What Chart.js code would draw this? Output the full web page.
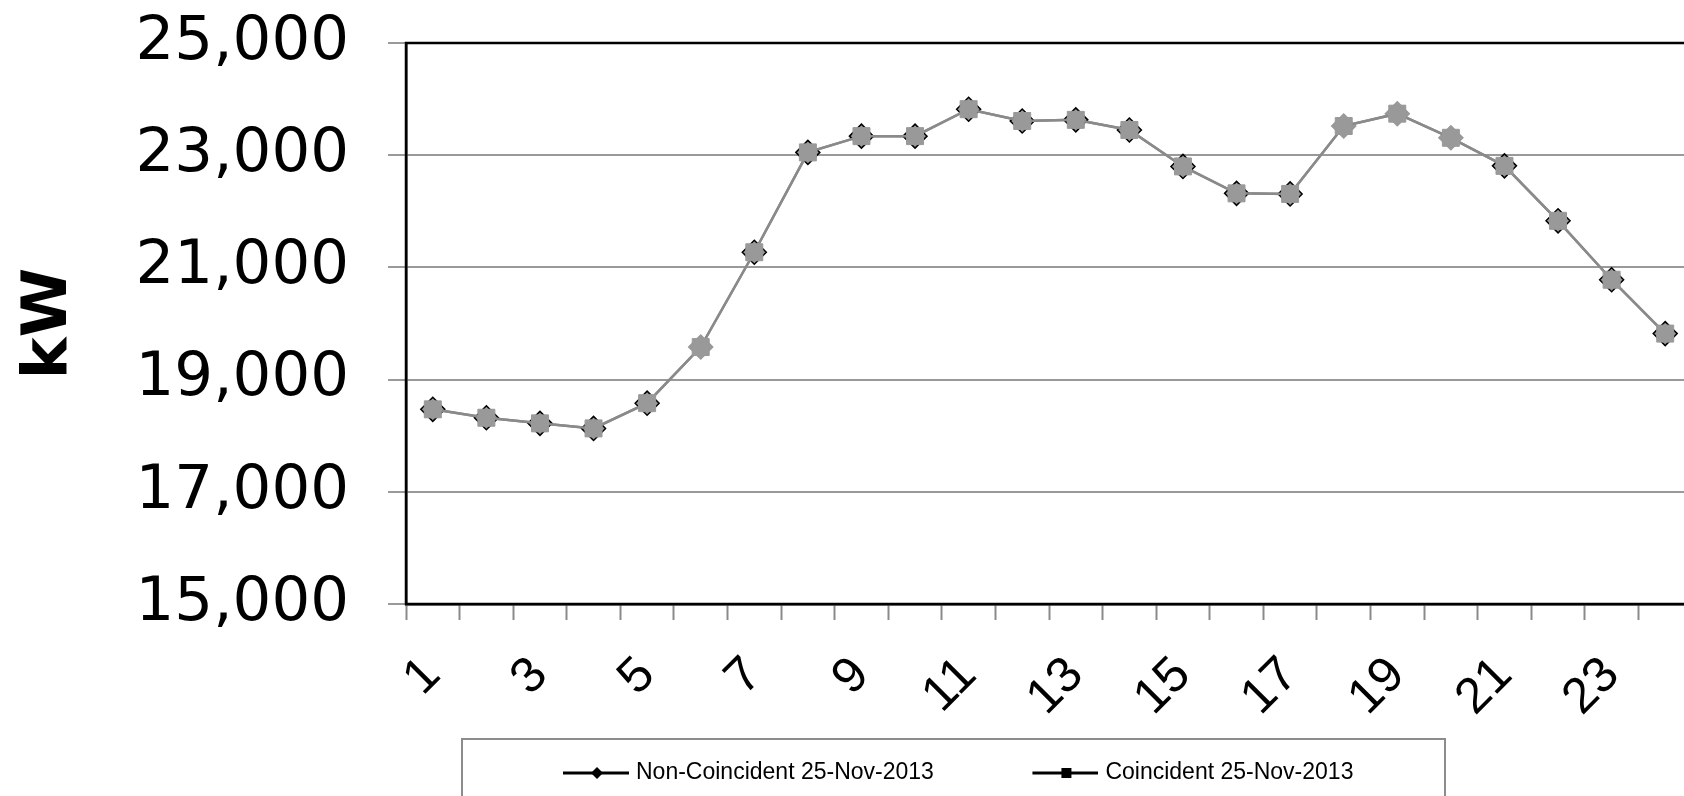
<!DOCTYPE html>
<html><head><meta charset="utf-8">
<script src="https://cdn.jsdelivr.net/npm/chart.js@4/dist/chart.umd.min.js"></script>
<style>
html,body{margin:0;padding:0;background:#fff;overflow:hidden;}
#wrap{position:relative;width:1720px;height:796px;}
</style></head><body>
<div id="wrap"><canvas id="c"></canvas></div>
<script>
// ---- data ----
const hours = ['1','2','3','4','5','6','7','8','9','10','11','12','13','14','15','16','17','18','19','20','21','22','23','24'];
const labeledHours = ['1','3','5','7','9','11','13','15','17','19','21','23'];
const nonCoincident = [18470, 18320, 18220, 18130, 18580, 19580, 21270, 23050, 23340, 23340, 23820, 23610, 23630, 23450, 22800, 22320, 22310, 23520, 23740, 23310, 22810, 21830, 20780, 19820];
const coincident    = [18470, 18320, 18220, 18130, 18580, 19580, 21270, 23050, 23340, 23340, 23820, 23610, 23630, 23450, 22800, 22320, 22310, 23520, 23740, 23310, 22810, 21830, 20780, 19820];
const yTickValues = [15000, 17000, 19000, 21000, 23000, 25000];
const seriesNames = ['Non-Coincident 25-Nov-2013', 'Coincident 25-Nov-2013'];
const yAxisTitle = 'kW';

// ---- styling ----
const grayTipHours = ['6','18','19','20'];
const lineGray = '#8a8a8a';
const markGray = '#999999';
const LEG_BOX = 150;
const LEG_IMG = 159;

function legendMarker(kind){
  const c = document.createElement('canvas');
  c.width = LEG_IMG; c.height = 20;
  const g = c.getContext('2d');
  g.strokeStyle = '#000'; g.lineWidth = 3;
  g.beginPath(); g.moveTo(LEG_IMG - 66, 10); g.lineTo(LEG_IMG, 10); g.stroke();
  g.fillStyle = '#000';
  const cx = LEG_IMG - 66 + 34;
  if (kind === 'diamond') {
    g.beginPath(); g.moveTo(cx,4); g.lineTo(cx+6,10); g.lineTo(cx,16); g.lineTo(cx-6,10); g.closePath(); g.fill();
  } else {
    g.fillRect(cx-5,5,10,10);
  }
  return c;
}
const legendImgs = [legendMarker('diamond'), legendMarker('square')];

const framePlugin = {
  id: 'frame',
  afterLayout(chart){
    const lg = chart.legend; if (!lg || !lg.lineWidths) return;
    const p = lg.options.labels.padding;
    const xFirst = ((lg.left + p) + (lg.right - lg.lineWidths[0])) / 2;
    const dx = 474.5 - xFirst;
    lg.left += dx; lg.right += dx;
    const fs = lg.options.labels.font.size;
    const dy = (773 - p - fs/2) - lg.top;
    lg.top += dy; lg.bottom += dy;
  },
  beforeDatasetsDraw(chart){
    const {ctx, chartArea:a} = chart;
    ctx.save();
    ctx.strokeStyle = '#000'; ctx.lineWidth = 2.5;
    ctx.strokeRect(a.left, a.top, a.right - a.left, a.bottom - a.top);
    ctx.restore();
  },
  afterDraw(chart){
    const ctx = chart.ctx;
    ctx.save();
    ctx.strokeStyle = '#8c8c8c'; ctx.lineWidth = 2;
    ctx.strokeRect(462, 739, 983, 120);
    ctx.restore();
  }
};

Chart.defaults.font.family = "'Liberation Sans', Arial, sans-serif";
Chart.defaults.color = '#000';

new Chart(document.getElementById('c'), {
  type: 'line',
  data: {
    labels: hours,
    datasets: [
      {
        label: seriesNames[0], data: nonCoincident, order: 1,
        borderColor: lineGray, borderWidth: 2.5, tension: 0,
        pointStyle: 'rectRot', pointRadius: 12, pointBackgroundColor: markGray,
        pointBorderColor: hours.map(h => grayTipHours.includes(h) ? markGray : '#000'),
        pointBorderWidth: 1.5
      },
      {
        label: seriesNames[1], data: coincident, order: 0,
        borderColor: lineGray, borderWidth: 2.5, tension: 0,
        pointStyle: 'rect', pointRadius: 12, pointBackgroundColor: markGray,
        pointBorderColor: markGray, pointBorderWidth: 1
      }
    ]
  },
  options: {
    responsive: true, maintainAspectRatio: false, animation: false,
    layout: { padding: { left: 0, top: 43, right: 28, bottom: 0 } },
    plugins: {
      tooltip: { enabled: false },
      legend: {
        position: 'bottom',
        labels: {
          usePointStyle: true, pointStyleWidth: LEG_BOX, padding: 10, color: '#000',
          font: { family: "'Liberation Sans', Arial", size: 23 },
          generateLabels(chart){
            const items = Chart.defaults.plugins.legend.labels.generateLabels(chart);
            items.forEach(it => { it.pointStyle = legendImgs[it.datasetIndex]; });
            return items;
          },
          sort: (a, b) => a.datasetIndex - b.datasetIndex
        }
      }
    },
    scales: {
      x: {
        offset: true,
        grid: { offset: true, drawOnChartArea: false, drawTicks: true, tickLength: 16, tickColor: lineGray, tickWidth: 2 },
        border: { display: true, color: '#000', width: 2.5 },
        ticks: {
          autoSkip: false, maxRotation: 45, minRotation: 45, padding: 26, color: '#000',
          font: { family: "'Liberation Sans', Arial", size: 50 },
          callback(v, i){ const l = hours[i]; return labeledHours.includes(l) ? l : ''; }
        },
        afterFit(scale){
          const lg = scale.chart.legend;
          scale.height = 796 - 604 - (lg ? lg.height : 0);
          scale.paddingLeft = 0; scale.paddingRight = 0;
        }
      },
      y: {
        min: 15000, max: 25000,
        afterBuildTicks(scale){ scale.ticks = yTickValues.map(v => ({ value: v })); },
        grid: { color: markGray, lineWidth: 2, tickLength: 18, tickColor: markGray },
        border: { color: '#000', width: 2.5 },
        ticks: {
          padding: 39, color: '#000',
          font: { family: "'DejaVu Sans'", size: 61 },
          callback: v => Number(v).toLocaleString('en-US')
        },
        title: {
          display: true, text: yAxisTitle, color: '#000',
          font: { family: "'DejaVu Sans'", size: 63, weight: 'bold' },
          padding: { top: 12, bottom: 0 }
        },
        afterFit(scale){
          scale.width = 406;
          scale.paddingTop = 0; scale.paddingBottom = 0;
        }
      }
    }
  },
  plugins: [framePlugin]
});
</script>
</body></html>
